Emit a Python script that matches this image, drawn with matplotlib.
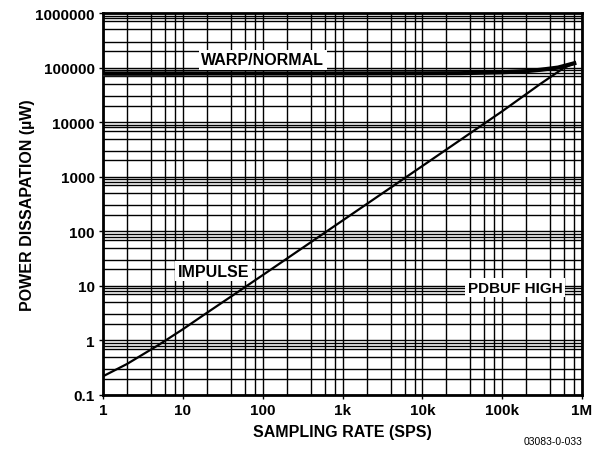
import matplotlib
matplotlib.use("Agg")
import matplotlib.pyplot as plt
from matplotlib.ticker import LogLocator, FixedLocator, NullFormatter

plt.rcParams['font.family'] = ['Liberation Sans', 'DejaVu Sans']

# --- data ---
x_ticks = [1, 10, 100, 1e3, 1e4, 1e5, 1e6]
x_labels = ['1', '10', '100', '1k', '10k', '100k', '1M']
y_ticks = [0.1, 1, 10, 100, 1e3, 1e4, 1e5, 1e6]
y_labels = ['0.1', '1', '10', '100', '1000', '10000', '100000', '1000000']

normal_rate = [1, 10, 100, 1e3, 1e4, 3e4, 1e5, 2e5, 3e5, 5e5, 8e5]
normal_pwr = [78000, 78000, 78000, 78000, 78500, 79000, 82000, 86000, 91000, 100000, 120000]

warp_rate = [1, 5, 10]
warp_pwr = [74000, 74000, 76000]

impulse_rate = [1, 2, 5, 10, 20, 50, 100, 1e3, 1e4, 1e5, 3e5, 6e5, 8e5]
impulse_pwr = [0.22, 0.37, 0.83, 1.6, 3.2, 7.9, 15.7, 157, 1570, 15800, 50000, 100000, 120000]

fig = plt.figure(figsize=(6.0, 4.52), dpi=100)
ax = fig.add_axes([0.1717, 0.124, 0.7983, 0.845])

ax.set_xscale('log')
ax.set_yscale('log')
ax.set_xlim(1, 1e6)
ax.set_ylim(0.1, 1e6)

# --- grid: odd minor spacing copied from the datasheet ---
ax.xaxis.set_major_locator(FixedLocator(x_ticks))
ax.yaxis.set_major_locator(FixedLocator(y_ticks))
ax.xaxis.set_minor_locator(LogLocator(base=10, subs=[2, 4, 6, 8]))
ax.yaxis.set_minor_locator(LogLocator(base=10, subs=[2, 3, 5, 7, 8, 9], numticks=20))
ax.xaxis.set_minor_formatter(NullFormatter())
ax.yaxis.set_minor_formatter(NullFormatter())
ax.grid(True, which='both', color='black', linewidth=1.0)
ax.tick_params(which='minor', length=0)
ax.tick_params(which='major', length=3, width=1, color='black', pad=3)

ax.set_xticklabels(x_labels, fontsize=11, fontweight='bold')
ax.set_yticklabels(y_labels, fontsize=11, fontweight='bold')

for s in ax.spines.values():
    s.set_linewidth(2.0)

# --- curves ---
ax.plot(warp_rate, warp_pwr, color='#555555', linewidth=2.2, zorder=3)
ax.plot(normal_rate, normal_pwr, color='black', linewidth=3.0, zorder=3)
ax.plot(impulse_rate, impulse_pwr, color='black', linewidth=1.6, zorder=3)

box = dict(facecolor='white', edgecolor='none', pad=2)
ax.text(100, 1.38e5, 'WARP/NORMAL', fontsize=11.5, fontweight='bold',
        ha='center', va='center', bbox=box, zorder=4)
ax.text(24, 18.6, 'IMPULSE', fontsize=11.5, fontweight='bold',
        ha='center', va='center', bbox=box, zorder=4)
ax.text(1.46e5, 9.3, 'PDBUF HIGH', fontsize=11, fontweight='bold',
        ha='center', va='center', bbox=box, zorder=4)

ax.set_xlabel('SAMPLING RATE (SPS)', fontsize=11.5, fontweight='bold', labelpad=5)
ax.set_ylabel('POWER DISSAPATION (µW)', fontsize=11.5, fontweight='bold', labelpad=0)

fig.text(0.97, 0.012, '03083-0-033', fontsize=7.5, ha='right', va='bottom')

fig.savefig('out.png', dpi=100)
